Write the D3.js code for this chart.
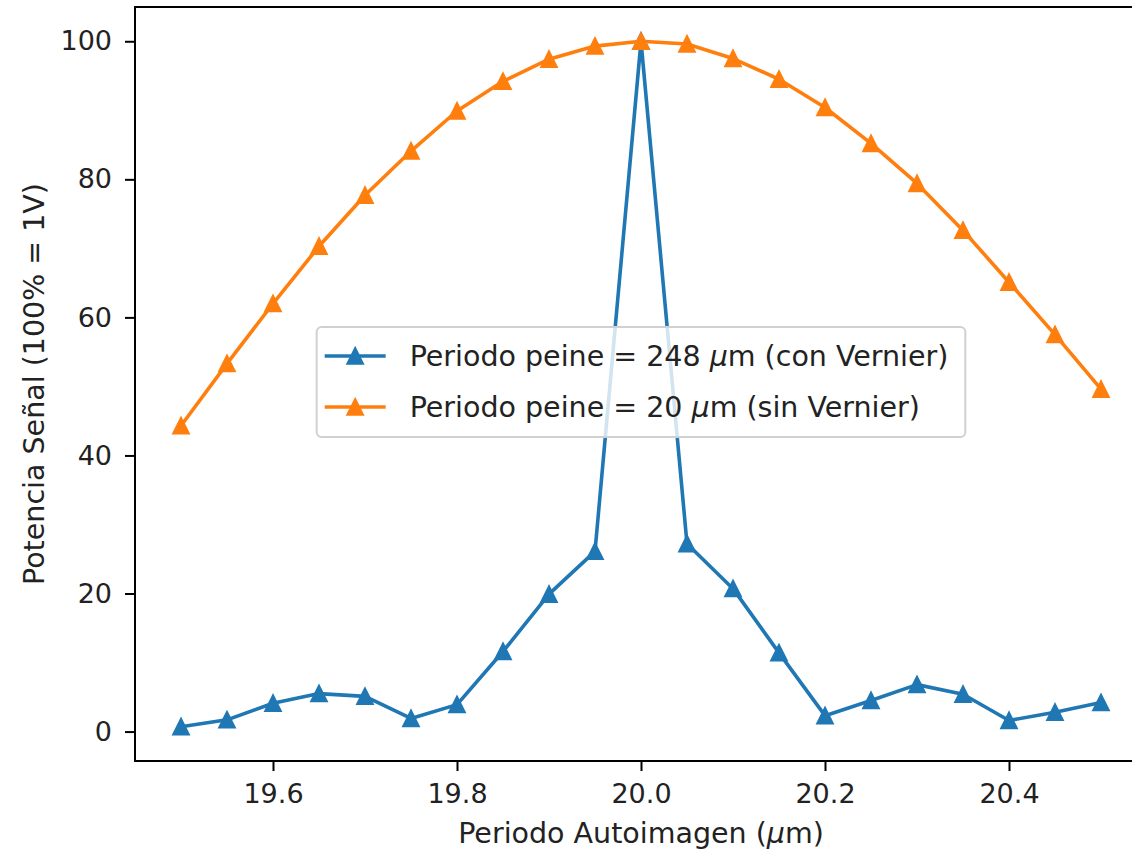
<!DOCTYPE html>
<meta charset="utf-8">
<div id="area"></div>
<script src="https://d3js.org/d3.v7.min.js"></script>
<style>
  body { margin: 0; background: #fff; font-family: "DejaVu Sans", sans-serif; }
  svg text { font-family: "DejaVu Sans", sans-serif; fill: #222; }
</style>
<script>
// periodo autoimagen (um)
var periods = [19.50, 19.55, 19.60, 19.65, 19.70, 19.75, 19.80, 19.85, 19.90, 19.95, 20.00,
               20.05, 20.10, 20.15, 20.20, 20.25, 20.30, 20.35, 20.40, 20.45, 20.50];
// peine 248 um (con Vernier)
var conVernier = [0.7, 1.7, 4.1, 5.5, 5.1, 1.9, 3.9, 11.6, 19.9, 26.1, 100,
                  27.2, 20.7, 11.4, 2.3, 4.5, 6.8, 5.4, 1.6, 2.8, 4.2];
// peine 20 um (sin Vernier)
var sinVernier = [44.3, 53.3, 62.0, 70.3, 77.7, 84.1, 89.9, 94.2, 97.4, 99.3, 100,
                  99.6, 97.5, 94.5, 90.4, 85.2, 79.4, 72.6, 65.1, 57.5, 49.6];
var seriesNames = ["Periodo peine = 248 ", "Periodo peine = 20 "];
var seriesTails = ["m (con Vernier)", "m (sin Vernier)"];
var xTicks = [19.6, 19.8, 20.0, 20.2, 20.4];
var yTicks = [0, 20, 40, 60, 80, 100];

var W = 1132, H = 852;
var margin = {left: 135, right: 1147, top: 7, bottom: 761};
var tickFs = 27, labelFs = 28.5;

var svg = d3.select("#area").append("svg")
    .attr("width", W).attr("height", H);

var x = d3.scaleLinear().domain([19.45, 20.55]).range([margin.left, margin.right]);
var y = d3.scaleLinear().domain([-4.265, 104.965]).range([margin.bottom, margin.top]);

var series = [
  {vals: conVernier, color: "#1f77b4"},
  {vals: sinVernier, color: "#ff7f0e"}
];

var tri = function(r) {
  return "M0," + (-r) + "L" + (-r) + "," + r + "L" + r + "," + r + "Z";
};

var line = d3.line()
  .x(function(d, i) { return x(periods[i]); })
  .y(function(d) { return y(d); });

series.forEach(function(s) {
  svg.append("path")
    .attr("d", line(s.vals))
    .attr("fill", "none")
    .attr("stroke", s.color)
    .attr("stroke-width", 3.6)
    .attr("stroke-linejoin", "round");
  svg.append("g").selectAll("path")
    .data(s.vals)
    .enter().append("path")
      .attr("d", tri(7.5))
      .attr("transform", function(d, i) { return "translate(" + x(periods[i]) + "," + y(d) + ")"; })
      .attr("fill", s.color)
      .attr("stroke", s.color)
      .attr("stroke-width", 2.4)
      .attr("stroke-linejoin", "miter");
});

// axes
var xAxis = svg.append("g")
  .attr("transform", "translate(0," + margin.bottom + ")")
  .call(d3.axisBottom(x).tickValues(xTicks).tickFormat(d3.format(".1f")).tickSize(10).tickPadding(13));
var yAxis = svg.append("g")
  .attr("transform", "translate(" + margin.left + ",0)")
  .call(d3.axisLeft(y).tickValues(yTicks).tickSize(10).tickPadding(13));
[xAxis, yAxis].forEach(function(a) {
  a.select(".domain").remove();
  a.selectAll("line").attr("stroke", "#000").attr("stroke-width", 2);
  a.selectAll("text").style("font-size", tickFs + "px").attr("fill", "#222");
});

// spines
svg.append("rect")
  .attr("x", margin.left).attr("y", margin.top)
  .attr("width", margin.right - margin.left).attr("height", margin.bottom - margin.top)
  .attr("fill", "none").attr("stroke", "#000").attr("stroke-width", 2);

// axis labels
var xl = svg.append("text")
  .attr("x", (margin.left + margin.right) / 2).attr("y", 843)
  .attr("text-anchor", "middle")
  .style("font-size", labelFs + "px");
xl.append("tspan").text("Periodo Autoimagen (");
xl.append("tspan").style("font-style", "italic").text("\u03bc");
xl.append("tspan").text("m)");

svg.append("text")
  .attr("transform", "translate(44," + ((margin.top + margin.bottom) / 2) + ") rotate(-90)")
  .attr("text-anchor", "middle")
  .style("font-size", labelFs + "px")
  .text("Potencia Se\u00f1al (100% = 1V)");

// legend, centred in the axes
var leg = svg.append("g");
var box = leg.append("rect")
  .attr("fill", "#fff").attr("fill-opacity", 0.8)
  .attr("stroke", "#d0d0d0").attr("stroke-width", 2)
  .attr("rx", 5);
var cx = (margin.left + margin.right) / 2, cy = (margin.top + margin.bottom) / 2;
var rowGap = 51;
var texts = [];
series.forEach(function(s, i) {
  var t = leg.append("text")
    .attr("y", 0)
    .attr("dy", "0.35em")
    .style("font-size", labelFs + "px");
  t.append("tspan").text(seriesNames[i]);
  t.append("tspan").style("font-style", "italic").text("\u03bc");
  t.append("tspan").text(seriesTails[i]);
  texts.push(t);
});
var tw = d3.max(texts, function(t) { return t.node().getComputedTextLength(); });
var bw = 93 + tw + 17, bh = 110;
var bx = cx - bw / 2, by = cy - bh / 2 - 2;
box.attr("x", bx).attr("y", by).attr("width", bw).attr("height", bh);
series.forEach(function(s, i) {
  var ry = by + 29 + i * rowGap;
  leg.append("line")
    .attr("x1", bx + 8).attr("x2", bx + 69)
    .attr("y1", ry).attr("y2", ry)
    .attr("stroke", s.color).attr("stroke-width", 3.6);
  leg.append("path")
    .attr("d", tri(7.5))
    .attr("transform", "translate(" + (bx + 38.5) + "," + ry + ")")
    .attr("fill", s.color).attr("stroke", s.color).attr("stroke-width", 2.4);
  texts[i].attr("x", bx + 93).attr("y", ry);
});
</script>
